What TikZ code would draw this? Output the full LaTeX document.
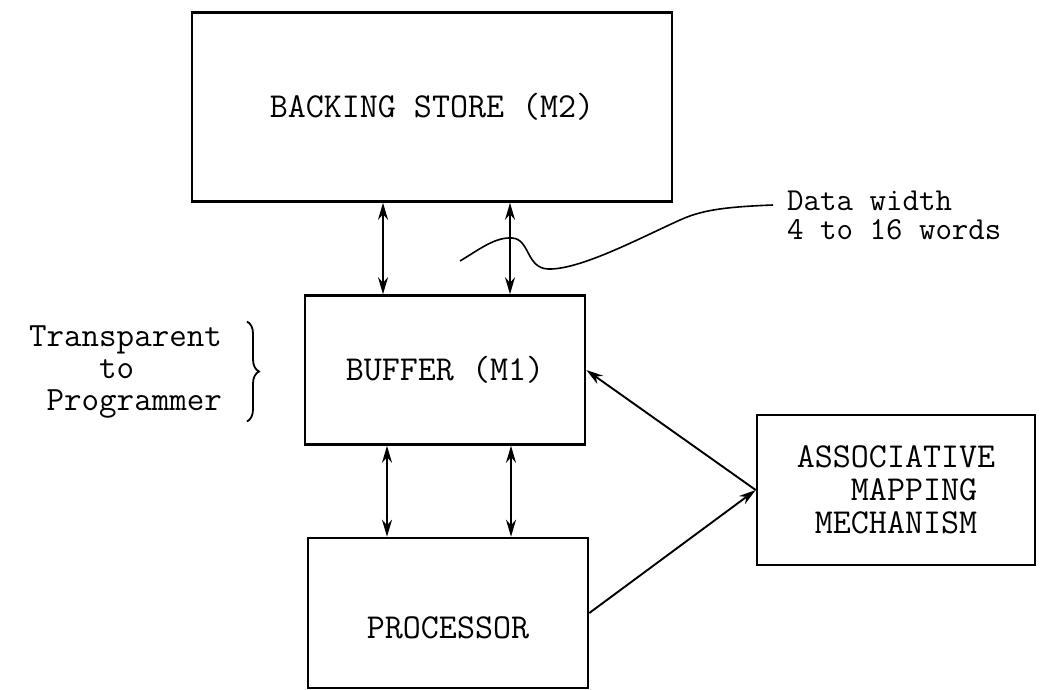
\documentclass[tikz,border=0pt]{standalone}
\usepackage{fontspec}
\usetikzlibrary{arrows.meta,decorations.pathreplacing}

\begin{document}
\begin{tikzpicture}[x=1pt, y=-1pt,
    unit/.style={draw, line width=2.6pt, inner sep=0pt, align=center,
      font=\ttfamily\fontsize{35}{33}\selectfont},
    note/.style={inner sep=0pt, font=\ttfamily\fontsize{34}{32}\selectfont},
    link/.style={line width=1.9pt, {Stealth[length=17pt,width=10pt]}-{Stealth[length=17pt,width=10pt]}},
    feed/.style={line width=1.9pt, -{Stealth[length=17pt,width=10pt]}}]

  \useasboundingbox (0,0) rectangle (1040,689);

  % memory levels
  \node[unit, minimum width=480pt, minimum height=189pt] (backing) at (432,107) {BACKING STORE (M2)};
  \node[unit, minimum width=280pt, minimum height=149pt] (buffer) at (445,370) {BUFFER (M1)};
  \node[unit, minimum width=280pt, minimum height=150pt, text height=50pt, text depth=0pt] (proc) at (448,613) {PROCESSOR};
  \node[unit, minimum width=278pt, minimum height=150pt, align=left] (assoc) at (896,490)
    {ASSOCIATIVE\\\phantom{AAA}MAPPING\\\phantom{A}MECHANISM};

  % data paths
  \draw[link] ([xshift=-62pt]buffer.north) -- ([xshift=-62pt]buffer.north |- backing.south);
  \draw[link] ([xshift=65pt]buffer.north) -- ([xshift=65pt]buffer.north |- backing.south);
  \draw[link] ([xshift=-61pt]proc.north) -- ([xshift=-61pt]proc.north |- buffer.south);
  \draw[link] ([xshift=63pt]proc.north) -- ([xshift=63pt]proc.north |- buffer.south);

  \draw[feed] (assoc.west) -- (buffer.east);
  \draw[feed] (proc.east) -- (assoc.west);

  % side notes
  \node[note, anchor=east, align=right] (trans) at (222,372) {Transparent\\to\phantom{xxxxx}\\Programmer};
  \draw[line width=1.8pt, decorate, decoration={brace, amplitude=12pt}]
    ([xshift=25pt,yshift=4pt]trans.north east) -- ([xshift=25pt,yshift=-3pt]trans.south east);

  \node[note, anchor=north west, align=left, font=\ttfamily\fontsize{32}{29}\selectfont] (width) at (787,191)
    {Data width\\4 to 16 words};
  \coordinate (lead) at ([xshift=-14pt,yshift=-14pt]width.north west);
  \coordinate (tail) at (460,261);
  \draw[line width=1.6pt] (tail) .. controls (480,249) and (495,237) .. (512,238)
    .. controls (530,239) and (526,268) .. (548,269) .. controls (580,270) and (640,238) .. (680,220)
    .. controls (700,211) and (720,207) .. (lead);

\end{tikzpicture}
\end{document}
